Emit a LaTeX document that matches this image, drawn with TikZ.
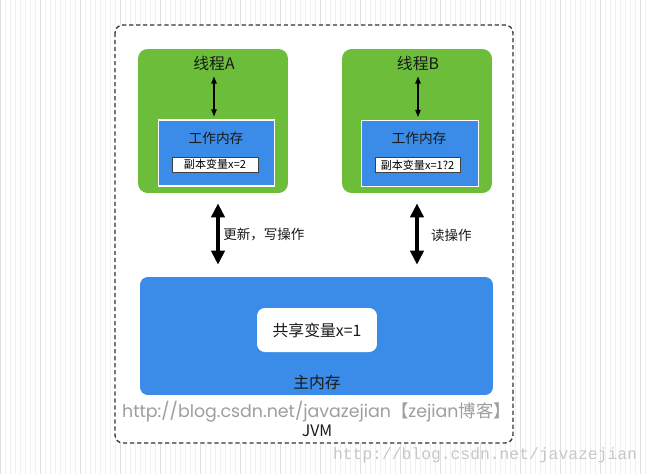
\documentclass[tikz,border=0pt]{standalone}
\usepackage{fontspec}
\setmainfont{Noto Sans CJK SC}
\newfontfamily\geofont{Poppins}
\newfontfamily\wmfont{Liberation Mono}
\usetikzlibrary{arrows.meta,calc,positioning}
\definecolor{thgreen}{RGB}{107,189,58}
\definecolor{memblue}{RGB}{58,140,232}
\definecolor{txtdark}{RGB}{25,25,25}

\begin{document}
\begin{tikzpicture}[x=0.02cm, y=-0.02cm,
  thread/.style={fill=thgreen, rounded corners=5.5pt, minimum width=3cm, minimum height=2.88cm, inner sep=0pt},
  workmem/.style={fill=memblue, draw=white, line width=0.6pt, minimum width=2.33cm, minimum height=1.32cm, inner sep=0pt},
  copybox/.style={fill=white, draw=black!75, line width=0.5pt, minimum height=0.3cm, inner sep=1pt, font=\fontsize{6.3}{7}\selectfont},
  smallarr/.style={{Triangle[length=4pt,width=3pt]}-{Triangle[length=4pt,width=3pt]}, line width=0.7pt},
  bigarr/.style={{Triangle[length=8pt,width=7.5pt]}-{Triangle[length=8pt,width=7.5pt]}, line width=2pt},
  lbl/.style={text=txtdark, font=\fontsize{9}{10}\selectfont},
  oplbl/.style={text=txtdark, inner sep=1pt, font=\fontsize{7.7}{9}\selectfont}]
\useasboundingbox (0,0) rectangle (650,474);
% grid paper background
\draw[black!6, line width=0.3pt, step=5] (0,0) grid (650,474);
\draw[black!12, line width=0.4pt, step=40] (0,0) grid (650,474);
% JVM frame
\draw[fill=white, draw=black!80, line width=0.75pt, dash pattern=on 2.4pt off 1.6pt, rounded corners=4.5pt] (115,25) rectangle (513,443);

% thread A
\node[thread] (thA) at (213,121) {};
\node[lbl] (tA) at (214,63) {线程A};
\node[workmem] (wA) at (216.5,153) {};
\node[lbl, font=\fontsize{7.8}{9}\selectfont] (wtA) at (216,138) {工作内存};
\node[copybox, minimum width=1.72cm] (cA) at (215,164.5) {副本变量x=2};
\draw[smallarr, shorten >=1.7pt] (tA.south) -- (tA.south |- wA.north);

% thread B
\node[thread] (thB) at (417,121) {};
\node[lbl] (tB) at (418,63) {线程B};
\node[workmem] (wB) at (420,153.5) {};
\node[lbl, font=\fontsize{7.8}{9}\selectfont] (wtB) at (419,138) {工作内存};
\node[copybox, minimum width=1.7cm] (cB) at (417.5,165) {副本变量x=1?2};
\draw[smallarr, shorten >=1.7pt] (tB.south) -- (tB.south |- wB.north);

% main memory
\node[fill=memblue, rounded corners=4.5pt, minimum width=7.06cm, minimum height=2.36cm, inner sep=0pt] (mainmem) at (316.5,336) {};
\node[fill=white, rounded corners=4.5pt, minimum width=2.4cm, minimum height=0.88cm, inner sep=0pt] (shared) at (317,330) {};
\node[lbl] (sharedtxt) at (317,330) {共享变量x=1};
\node[lbl] (maintxt) at (317,383) {主内存};

% read / write arrows
\draw[bigarr, shorten <=5.7pt, shorten >=6.8pt] ($(thA.south)+(5,0)$) -- ($(thA.south |- mainmem.north)+(5,0)$)
  node[oplbl, midway, right=1pt] (opA) {更新，写操作};
\draw[bigarr, shorten <=5.7pt, shorten >=6.8pt] (thB.south) -- (thB.south |- mainmem.north)
  node[oplbl, midway, right=6pt] (opB) {读操作};

% captions
\node[text=black!38, font=\fontsize{9.9}{11}\selectfont] (url) at (316.5,412) {{\geofont http://blog.csdn.net/javazejian}【{\geofont zejian}博客】};
\node[lbl] (jvm) at (317,431) {JVM};
\node[text=black!22, font=\wmfont\fontsize{9.3}{11}\selectfont] (wm) at (485,455) {http://blog.csdn.net/javazejian};
\end{tikzpicture}
\end{document}
